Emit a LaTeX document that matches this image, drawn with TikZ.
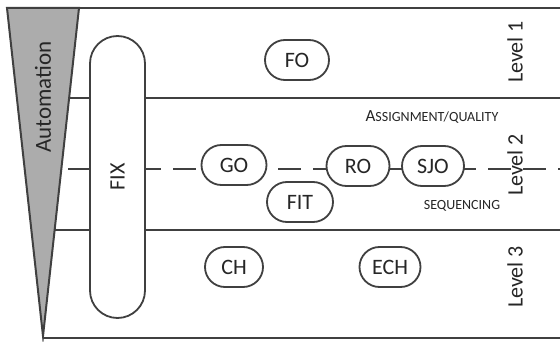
\documentclass[tikz,border=0pt]{standalone}
\usepackage{fontspec}
\setmainfont{Carlito}
\definecolor{linec}{RGB}{64,64,64}
\definecolor{txt}{RGB}{38,38,38}
\definecolor{wedge}{RGB}{172,172,172}
\newcommand{\bigfs}{\fontsize{22}{22}\selectfont}
\newcommand{\smcfs}{\fontsize{14}{14}\selectfont}
\tikzset{
  rule/.style={draw=linec, line width=2pt},
  pill/.style={draw=linec, line width=1.8pt, fill=white, rounded corners=20pt,
    minimum width=62pt, minimum height=40pt, inner sep=0pt, font=\bigfs, text=txt},
  lvl/.style={rotate=90, font=\bigfs, text=txt, inner sep=0pt},
  note/.style={font=\smcfs, text=txt, inner sep=0pt}
}
\begin{document}
\begin{tikzpicture}[x=1pt,y=-1pt]
  \useasboundingbox[fill=white] (0,0) rectangle (560,342);

  % level separators and outer frame, starting at the wedge's slanted side
  \draw[rule] (7,8) -- (570,8);
  \draw[rule] (69,98) -- (570,98);
  \draw[rule] (54.6,230) -- (570,230);
  \draw[rule] (43,338) -- (570,338);
  \draw[rule, dash pattern=on 23pt off 12pt] (68,169) -- (575,169);

  % automation wedge
  \draw[draw=linec, line width=2pt, fill=wedge, line join=miter] (7,8) -- (79,8) -- (43,336) -- cycle;
  \node[lvl, font=\fontsize{23}{23}\selectfont] (auto) at (43,97) {Automation};

  % long FIX bar crossing all levels
  \node[pill, minimum width=55pt, minimum height=282pt, rounded corners=27.5pt] (fix) at (117.5,177) {};
  \node[lvl] (fixlabel) at (fix.center) {FIX};

  % level 1
  \node[pill, minimum width=64pt] (fo) at (297,60) {FO};

  % level 2
  \node[pill, minimum width=65pt] (go) at (234,165) {GO};
  \node[pill, minimum width=66pt] (fit) at (300,202) {FIT};
  \node[pill, minimum width=63pt] (ro) at (358,166) {RO};
  \node[pill, minimum width=62pt] (sjo) at (433,166) {SJO};

  % level 3
  \node[pill, minimum width=58pt] (ch) at (234,267) {CH};
  \node[pill, minimum width=61pt] (ech) at (390,267) {ECH};

  % annotations
  \node[note, anchor=base] (assign) at (432,122)
    {{\fontsize{17}{17}\selectfont A}SSIGNMENT/QUALITY};
  \node[note, anchor=base] (seq) at (462,209) {SEQUENCING};

  % level labels
  \node[lvl] (l1) at (515,52) {Level 1};
  \node[lvl] (l2) at (515,165) {Level 2};
  \node[lvl] (l3) at (515,277) {Level 3};
\end{tikzpicture}
\end{document}
